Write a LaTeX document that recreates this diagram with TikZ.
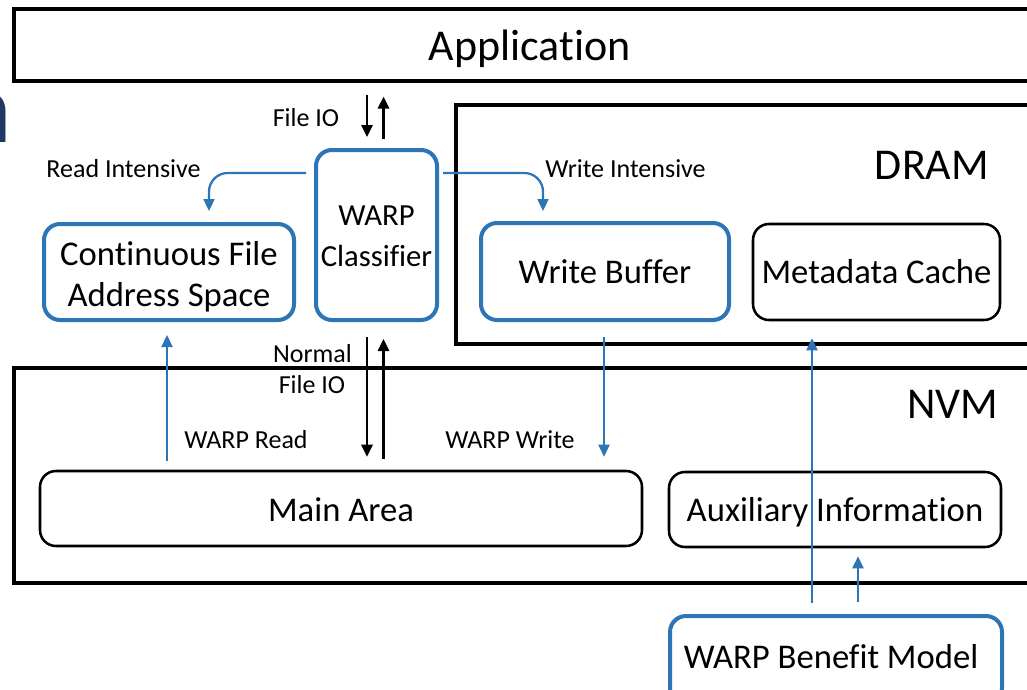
\documentclass[tikz,border=0pt]{standalone}
\usepackage{fontspec}
\setmainfont{Carlito}[Ligatures=NoCommon]
\usetikzlibrary{arrows.meta}
\definecolor{ablue}{RGB}{46,117,182}
\definecolor{navy}{RGB}{31,56,100}

\begin{document}
\begin{tikzpicture}[x=0.75pt,y=-0.75pt,
  layer/.style={draw=black,line width=2.3pt,inner sep=0pt},
  bluebox/.style={draw=ablue,line width=3pt,rounded corners=12pt,inner sep=0pt,align=center,
    font=\fontsize{26}{31}\selectfont},
  blackbox/.style={draw=black,line width=1.9pt,rounded corners=12pt,inner sep=0pt,align=center,
    font=\fontsize{26}{31}\selectfont},
  boxtext/.style={font=\fontsize{26}{31}\selectfont,inner sep=0pt,align=center},
  lbl/.style={font=\fontsize{19.5}{23}\selectfont,inner sep=0pt},
  big/.style={font=\fontsize{33}{38}\selectfont,inner sep=0pt},
  barr/.style={draw=black,line width=2pt,-{Triangle[length=9pt,width=8.25pt]}},
  bluarr/.style={draw=ablue,line width=1.7pt,-{Triangle[length=9pt,width=8.25pt]}}]

\useasboundingbox (0,0) rectangle (1027,689);
\clip (0,0) rectangle (1027,689);
\fill[white] (0,0) rectangle (1027,689);

% clipped title letter at the left edge
\node[text=navy,font=\fontsize{75}{80}\bfseries,anchor=base east,inner sep=0pt] (ttl) at (11,142) {n};

% layers
\node[layer,minimum width=773.25pt,minimum height=54pt] (app) at (529.5,45) {};
\node[big] (applbl) at (529.5,48.5) {Application};

\node[layer,minimum width=441.75pt,minimum height=179.25pt] (dram) at (750.5,224.5) {};
\node[big] (dramlbl) at (932,165) {DRAM};

\node[layer,minimum width=773.25pt,minimum height=161.25pt] (nvm) at (529.5,475.5) {};
\node[big] (nvmlbl) at (953,404) {NVM};

% components
\node[bluebox,minimum width=90.75pt,minimum height=127.5pt] (cls) at (376.5,235) {};
\node[boxtext,font=\fontsize{23}{31}\selectfont] (clslbl) at (376.5,236.5) {WARP\\Classifier};
\node[bluebox,minimum width=187.5pt,minimum height=72pt] (cfas) at (169,272) {};
\node[boxtext] (cfaslbl) at (169,277) {Continuous File\\Address Space};
\node[bluebox,minimum width=186pt,minimum height=72.75pt] (wbuf) at (605,271.5) {Write Buffer};
\node[blackbox,minimum width=185.25pt,minimum height=72pt] (meta) at (876.5,272) {Metadata Cache};
\node[blackbox,minimum width=451.5pt,minimum height=56.25pt] (main) at (341,508.5) {};
\node[boxtext,anchor=base] (mainlbl) at (341,521) {Main Area};
\node[blackbox,minimum width=249pt,minimum height=56.25pt] (aux) at (835,509.5) {};
\node[boxtext,anchor=base] (auxlbl) at (835,521) {Auxiliary Information};
\node[bluebox,minimum width=249pt,minimum height=66pt] (wbm) at (836,660) {};
\node[boxtext,anchor=base] (wbmlbl) at (831,668) {WARP Benefit Model};

% connector columns
\coordinate (xa) at (367,0);
\coordinate (xb) at (383.5,0);
\coordinate (xr) at (167,0);
\coordinate (xw) at (604,0);
\coordinate (xm) at (812,0);
\coordinate (xx) at (858,0);

% file IO between application and classifier
\draw[barr,shorten <=9pt,shorten >=8.25pt] (app.south -| xa) -- (cls.north -| xa);
\draw[barr,shorten <=6.75pt,shorten >=10.5pt] (cls.north -| xb) -- (app.south -| xb);
\node[lbl] (fio) at (306,118) {File IO};

% normal file IO between classifier and main area
\draw[barr,shorten <=11.25pt,shorten >=9.75pt] (cls.south -| xa) -- (main.north -| xa);
\draw[barr,shorten <=8.25pt,shorten >=12.75pt] (main.north -| xb) -- (cls.south -| xb);
\node[lbl] (nrm) at (312.5,354) {Normal};
\node[lbl] (nfio) at (312,385) {File IO};

% classifier outputs
\coordinate (ri) at (306,173);
\coordinate (wi) at (443,173);
\draw[bluarr,rounded corners=14pt,shorten >=8.25pt] (ri) -| (cfas.north -| 209,0);
\draw[bluarr,rounded corners=14pt,shorten >=7.5pt] (wi) -| (wbuf.north -| 543,0);
\node[lbl] (rilbl) at (123.5,169) {Read Intensive};
\node[lbl] (wilbl) at (625.5,169) {Write Intensive};

% WARP read / write paths
\draw[bluarr,shorten <=6.75pt,shorten >=9.75pt] (main.north -| xr) -- (cfas.south -| xr);
\draw[bluarr,shorten <=11.25pt,shorten >=9.75pt] (wbuf.south -| xw) -- (main.north -| xw);
\node[lbl] (wrlbl) at (246,440) {WARP Read};
\node[lbl] (wwlbl) at (510,440) {WARP Write};

% benefit model outputs
\draw[bluarr,shorten <=8.25pt,shorten >=12.75pt] (wbm.north -| xm) -- (meta.south -| xm);
\draw[bluarr,shorten <=9pt,shorten >=6pt] (wbm.north -| xx) -- (aux.south -| xx);
\end{tikzpicture}
\end{document}
